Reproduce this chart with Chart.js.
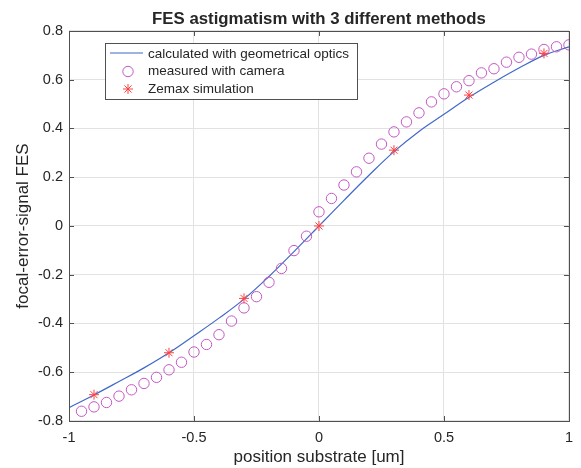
<!DOCTYPE html>
<html>
<head>
<meta charset="utf-8">
<script src="https://cdn.jsdelivr.net/npm/chart.js@4"></script>
<style>
  html, body { margin: 0; padding: 0; background: #fff; }
  #wrap { width: 581px; height: 468px; position: relative; }
</style>
</head>
<body>
<div id="wrap"><canvas id="c" width="581" height="468"></canvas></div>
<script>
// ---- data ----
const titleText = 'FES astigmatism with 3 different methods';
const xLabel = 'position substrate [um]';
const yLabel = 'focal-error-signal FES';

const lineLabel = 'calculated with geometrical optics';
const lineX = [-1, -0.9, -0.8, -0.7, -0.6, -0.5, -0.4, -0.3, -0.2, -0.1, 0, 0.1, 0.2, 0.3, 0.4, 0.5, 0.6, 0.7, 0.8, 0.9, 1.0];
const lineY = [-0.745, -0.693, -0.638, -0.582, -0.52, -0.45, -0.378, -0.30, -0.207, -0.105, 0, 0.105, 0.208, 0.305, 0.388, 0.458, 0.528, 0.59, 0.648, 0.70, 0.735];

const camLabel = 'measured with camera';
const camX = [-0.95, -0.9, -0.85, -0.8, -0.75, -0.7, -0.65, -0.6, -0.55, -0.5, -0.45, -0.4, -0.35, -0.3, -0.25, -0.2, -0.15, -0.1, -0.05,
              0, 0.05, 0.1, 0.15, 0.2, 0.25, 0.3, 0.35, 0.4, 0.45, 0.5, 0.55, 0.6, 0.65, 0.7, 0.75, 0.8, 0.85, 0.9, 0.95, 1.0];
const camY = [-0.76, -0.742, -0.724, -0.698, -0.672, -0.646, -0.621, -0.59, -0.559, -0.517, -0.486, -0.446, -0.39, -0.336, -0.29, -0.231, -0.174, -0.101, -0.042,
              0.058, 0.113, 0.168, 0.222, 0.278, 0.336, 0.386, 0.427, 0.464, 0.509, 0.542, 0.571, 0.596, 0.628, 0.645, 0.672, 0.692, 0.705, 0.724, 0.735, 0.743];

const zmxLabel = 'Zemax simulation';
const zmxX = [-0.9, -0.6, -0.3, 0, 0.3, 0.6, 0.9];
const zmxY = [-0.692, -0.52, -0.297, 0, 0.311, 0.537, 0.708];

const xTicks = [-1, -0.5, 0, 0.5, 1];
const yTicks = [-0.8, -0.6, -0.4, -0.2, 0, 0.2, 0.4, 0.6, 0.8];

// ---- styles ----
const FONT = '"Liberation Sans", Arial, Helvetica, sans-serif';
const TXT = '#262626';
const AXIS = '#505050';
const GRID = '#e2e2e2';
const BLUE = '#4068c8';
const MAG = '#c458c4';
const RED = '#ff4040';

const pts = (xs, ys) => xs.map((x, i) => ({ x: x, y: ys[i] }));

// box + inner ticks (MATLAB style) and the in-plot legend
const boxPlugin = {
  id: 'box',
  afterDatasetsDraw(chart) {
    const { ctx, chartArea: a, scales } = chart;
    ctx.save();
    ctx.strokeStyle = AXIS;
    ctx.lineWidth = 1;
    ctx.beginPath();
    const L = 5;
    xTicks.forEach(v => {
      const px = Math.round(scales.x.getPixelForValue(v)) + 0.5;
      ctx.moveTo(px, a.bottom); ctx.lineTo(px, a.bottom - L);
      ctx.moveTo(px, a.top); ctx.lineTo(px, a.top + L);
    });
    yTicks.forEach(v => {
      const py = Math.round(scales.y.getPixelForValue(v)) + 0.5;
      ctx.moveTo(a.left, py); ctx.lineTo(a.left + L, py);
      ctx.moveTo(a.right, py); ctx.lineTo(a.right - L, py);
    });
    ctx.stroke();
    ctx.strokeRect(Math.round(a.left) + 0.5, Math.round(a.top) + 0.5, Math.round(a.right - a.left), Math.round(a.bottom - a.top));
    ctx.restore();
  },
  afterDraw(chart) {
    const { ctx } = chart;
    const ds = chart.data.datasets;
    const bx = 105.5, by = 43.5, bw = 252, bh = 56;
    ctx.save();
    ctx.fillStyle = '#fff';
    ctx.fillRect(bx, by, bw, bh);
    ctx.strokeStyle = AXIS;
    ctx.lineWidth = 1;
    ctx.strokeRect(bx, by, bw, bh);
    ctx.font = '13.5px ' + FONT;
    ctx.textBaseline = 'middle';
    const rows = [54, 71.5, 89];
    ds.forEach((d, i) => {
      const y = rows[i];
      if (i === 0) {
        ctx.strokeStyle = d.borderColor; ctx.lineWidth = 1.2;
        ctx.beginPath(); ctx.moveTo(110, y - 1); ctx.lineTo(143, y - 1); ctx.stroke();
      } else {
        ctx.fillStyle = d.backgroundColor;
        ctx.strokeStyle = d.borderColor;
        ctx.lineWidth = d.borderWidth;
        Chart.helpers.drawPoint(ctx, {
          pointStyle: d.pointStyle, radius: d.pointRadius, borderWidth: d.borderWidth, rotation: 0
        }, 128, y);
      }
      ctx.fillStyle = TXT;
      ctx.fillText(d.label, 148, y);
    });
    ctx.restore();
  }
};

new Chart(document.getElementById('c'), {
  type: 'scatter',
  data: {
    datasets: [
      {
        label: lineLabel, data: pts(lineX, lineY), showLine: true, borderColor: BLUE, backgroundColor: BLUE,
        borderWidth: 1.2, pointRadius: 0, tension: 0.4, order: 3
      },
      {
        label: camLabel, data: pts(camX, camY), borderColor: MAG, backgroundColor: 'rgba(0,0,0,0)',
        pointStyle: 'circle', pointRadius: 5.2, borderWidth: 1, order: 2
      },
      {
        label: zmxLabel, data: pts(zmxX, zmxY), borderColor: RED, backgroundColor: RED,
        pointStyle: 'star', pointRadius: 5, borderWidth: 1, order: 1
      }
    ]
  },
  options: {
    responsive: false,
    animation: false,
    events: [],
    layout: { padding: { left: 0, right: 12, top: 0, bottom: 0 } },
    plugins: {
      legend: { display: false },
      tooltip: { enabled: false },
      title: {
        display: true, text: titleText, color: TXT, fullSize: false,
        font: { family: FONT, size: 16.8, weight: 'bold' },
        padding: { top: 9, bottom: 1.8 }
      }
    },
    scales: {
      x: {
        type: 'linear', min: -1, max: 1,
        afterBuildTicks: s => { s.ticks = xTicks.map(v => ({ value: v })); },
        afterFit: s => { s.height = 47; },
        ticks: { color: TXT, font: { family: FONT, size: 14.5 }, padding: 8, maxRotation: 0,
                 callback: v => String(v) },
        grid: { color: GRID, drawTicks: false, lineWidth: 1 },
        border: { display: false },
        title: { display: true, text: xLabel, color: TXT, font: { family: FONT, size: 17 }, padding: { top: 4, bottom: 0 } }
      },
      y: {
        type: 'linear', min: -0.8, max: 0.8,
        afterBuildTicks: s => { s.ticks = yTicks.map(v => ({ value: v })); },
        afterFit: s => { s.width = 69; },
        ticks: { color: TXT, font: { family: FONT, size: 14.5 }, padding: 6,
                 callback: v => String(Math.round(v * 10) / 10) },
        grid: { color: GRID, drawTicks: false, lineWidth: 1 },
        border: { display: false },
        title: { display: true, text: yLabel, color: TXT, font: { family: FONT, size: 17 }, padding: { top: 13, bottom: 0 } }
      }
    }
  },
  plugins: [boxPlugin]
});
</script>
</body>
</html>
